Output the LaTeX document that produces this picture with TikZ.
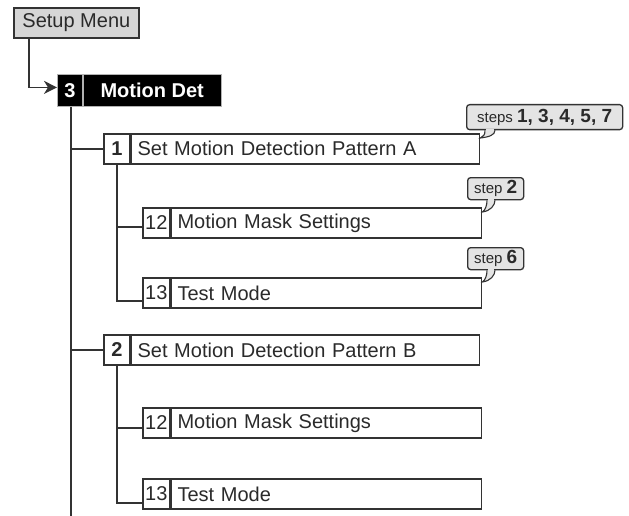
\documentclass[tikz,border=0pt]{standalone}
\usepackage{fontspec}
\setmainfont{Liberation Sans}
\usetikzlibrary{arrows.meta}
\definecolor{bcol}{HTML}{333333}
\definecolor{tcol}{HTML}{2A2A2A}
\definecolor{setupfill}{HTML}{D6D6D6}
\definecolor{calfill}{HTML}{E4E4E4}
\begin{document}
\begin{tikzpicture}[x=1pt,y=-1pt,
  box/.style={draw=bcol, line width=1.7pt, fill=white, minimum height=30pt, inner sep=0pt,
    text=tcol, font=\fontsize{20}{22}\selectfont},
  numbox/.style={box, anchor=north west, minimum width=#1},
  lblbox/.style={box, anchor=west, text width=#1, align=left, inner xsep=6pt},
  mdbox/.style={fill=black, draw=gray!60, line width=0.8pt, text=white, minimum height=32pt,
    inner sep=0pt, font=\fontsize{20}{22}\selectfont\bfseries},
  link/.style={draw=bcol, line width=1.7pt},
  callout/.style={draw=bcol, fill=calfill, line width=1.3pt, rounded corners=3pt, inner sep=0pt,
    text=tcol, anchor=north west},
  tail/.style={draw=bcol, fill=calfill, line width=1.1pt},
]
\useasboundingbox (0,0) rectangle (629,516);

% Setup Menu
\node[box, fill=setupfill, anchor=north west, minimum width=125pt] (setup) at (13,7) {Setup Menu};

% Motion Det
\node[mdbox, anchor=north west, minimum width=25pt] (mdn) at (57,74) {3};
\node[mdbox, anchor=west, minimum width=138pt] (mdl) at (mdn.east) {Motion Det};

\draw[link, -{Stealth[length=13pt,width=13pt,inset=4pt]}] ([xshift=16pt]setup.south west) |- ([yshift=3pt]mdn.west);

% trunk
\coordinate (trunkend) at (71,516);
\draw[link] (trunkend |- mdn.south) -- (trunkend);

% Pattern A
\node[numbox=26pt, font=\fontsize{20}{22}\selectfont\bfseries] (n1) at (103,133) {1};
\node[lblbox=336pt] (n1l) at (n1.east) {Set Motion Detection Pattern A};
\node[numbox=27pt] (n12a) at (142,207) {12};
\node[lblbox=298pt] (n12al) at (n12a.east) {Motion Mask Settings};
\node[numbox=27pt] (n13a) at (142,277) {13};
\node[lblbox=298pt] (n13al) at (n13a.east) {Test Mode};

\draw[link] (n1.west) -- (n1.west -| trunkend);
\draw[link] (n1.south) |- ([yshift=-8pt]n13a.west);
\draw[link] ([yshift=-4pt]n12a.west) -- ([yshift=-4pt]n12a.west -| n1.south);

% Pattern B
\node[numbox=26pt, font=\fontsize{20}{22}\selectfont\bfseries] (n2) at (103,334) {2};
\node[lblbox=336pt] (n2l) at (n2.east) {Set Motion Detection Pattern B};
\node[numbox=27pt] (n12b) at (142,407) {12};
\node[lblbox=298pt] (n12bl) at (n12b.east) {Motion Mask Settings};
\node[numbox=27pt] (n13b) at (142,478) {13};
\node[lblbox=298pt] (n13bl) at (n13b.east) {Test Mode};

\draw[link] (n2.west) -- (n2.west -| trunkend);
\draw[link] (n2.south) |- ([yshift=-9pt]n13b.west);
\draw[link] ([yshift=-5pt]n12b.west) -- ([yshift=-5pt]n12b.west -| n2.south);

% Callouts
\node[callout, minimum width=156pt, minimum height=25pt] (c1) at (466,104)
  {\fontsize{15}{16}\selectfont steps \fontsize{19}{20}\selectfont\bfseries 1, 3, 4, 5, 7};
\coordinate (t1) at ([yshift=-5pt]n1l.north east);
\filldraw[tail] ([xshift=19pt]c1.south west) .. controls +(0,5) and +(3,-2) .. (t1)
  .. controls +(8,-1) and +(0,5) .. ([xshift=29pt]c1.south west);
\fill[calfill] ([xshift=20pt,yshift=-1pt]c1.south west) rectangle ([xshift=28pt,yshift=1.5pt]c1.south west);

\node[callout, minimum width=56pt, minimum height=22pt] (c2) at (467,177)
  {\fontsize{15}{16}\selectfont step \fontsize{19}{20}\selectfont\bfseries 2};
\coordinate (t2) at ([yshift=-5pt]n12al.north east);
\filldraw[tail] ([xshift=20pt]c2.south west) .. controls +(0,5) and +(3,-2) .. (t2)
  .. controls +(8,-1) and +(0,5) .. ([xshift=28pt]c2.south west);
\fill[calfill] ([xshift=21pt,yshift=-1pt]c2.south west) rectangle ([xshift=27pt,yshift=1.5pt]c2.south west);

\node[callout, minimum width=56pt, minimum height=22pt] (c3) at (467,247)
  {\fontsize{15}{16}\selectfont step \fontsize{19}{20}\selectfont\bfseries 6};
\coordinate (t3) at ([yshift=-5pt]n13al.north east);
\filldraw[tail] ([xshift=20pt]c3.south west) .. controls +(0,5) and +(3,-2) .. (t3)
  .. controls +(8,-1) and +(0,5) .. ([xshift=28pt]c3.south west);
\fill[calfill] ([xshift=21pt,yshift=-1pt]c3.south west) rectangle ([xshift=27pt,yshift=1.5pt]c3.south west);
\end{tikzpicture}
\end{document}
